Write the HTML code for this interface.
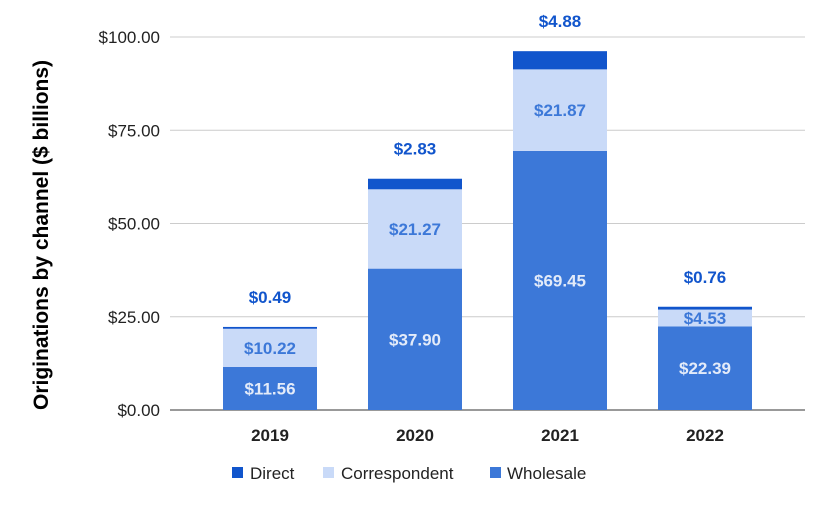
<!DOCTYPE html>
<html><head><meta charset="utf-8"><style>
body{margin:0;background:#fff;}
svg text{font-family:"Liberation Sans",Arial,sans-serif;}
</style></head><body>
<svg id="chart" width="829" height="512" xmlns="http://www.w3.org/2000/svg">
<rect width="829" height="512" fill="#fff"/>
<g id="grid"></g><g id="bars"></g><g id="labels"></g>
<text transform="translate(48,235) rotate(-90)" text-anchor="middle" font-size="21" font-weight="bold" fill="#000">Originations by channel ($ billions)</text>
<g>
<rect x="232" y="467" width="11" height="11" fill="#1155cc"/>
<text x="250" y="479" font-size="17" fill="#222">Direct</text>
<rect x="323" y="467" width="11" height="11" fill="#c9daf8"/>
<text x="341" y="479" font-size="17" fill="#222">Correspondent</text>
<rect x="490" y="467" width="11" height="11" fill="#3c78d8"/>
<text x="507" y="479" font-size="17" fill="#222">Wholesale</text>
</g>
</svg>
<script>
const categories = ["2019","2020","2021","2022"];
const wholesale = [11.56, 37.90, 69.45, 22.39];
const correspondent = [10.22, 21.27, 21.87, 4.53];
const direct = [0.49, 2.83, 4.88, 0.76];
const yTicks = [0, 25, 50, 75, 100];
const yTickLabels = ["$0.00","$25.00","$50.00","$75.00","$100.00"];

const NS = "http://www.w3.org/2000/svg";
const y0 = 410, y100 = 37, xStart = 197.5, step = 145, barW = 94;
const yScale = v => y0 - (v / 100) * (y0 - y100);
const xCenter = i => xStart + step * (i + 0.5);
function mk(tag, attrs, parent, txt) {
  const e = document.createElementNS(NS, tag);
  for (const k in attrs) e.setAttribute(k, attrs[k]);
  if (txt !== undefined) e.textContent = txt;
  parent.appendChild(e);
  return e;
}
const grid = document.getElementById("grid"), bars = document.getElementById("bars"), labels = document.getElementById("labels");
yTicks.forEach((t, i) => {
  const l = mk("line", {x1: 170, x2: 805, y1: yScale(t), y2: yScale(t), stroke: i === 0 ? "#333" : "#ccc", "stroke-width": 1}, grid);
  
  
  const tx = mk("text", {x: 160, y: yScale(t) + 6, "text-anchor": "end", "font-size": 17, fill: "#222"}, grid, yTickLabels[i]);
  
  
});
const fmt = v => "$" + v.toFixed(2);
categories.forEach((c, i) => {
  const cx = xCenter(i), x = cx - barW / 2;
  const w = wholesale[i], co = correspondent[i], d = direct[i];
  const r1 = mk("rect", {x: x, y: yScale(w), width: barW, height: yScale(0) - yScale(w), fill: "#3c78d8"}, bars);
  
  
  const r2 = mk("rect", {x: x, y: yScale(w + co), width: barW, height: yScale(w) - yScale(w + co), fill: "#c9daf8"}, bars);
  
  
  const r3 = mk("rect", {x: x, y: yScale(w + co + d), width: barW, height: yScale(w + co) - yScale(w + co + d), fill: "#1155cc"}, bars);
  
  
  const t1 = mk("text", {x: cx, y: (yScale(0) + yScale(w)) / 2 + 6, "text-anchor": "middle", "font-size": 17, "font-weight": "bold", fill: "#e3ebf9"}, labels, fmt(w));
  
  
  const t2 = mk("text", {x: cx, y: (yScale(w) + yScale(w + co)) / 2 + 6, "text-anchor": "middle", "font-size": 17, "font-weight": "bold", fill: "#3c78d8"}, labels, fmt(co));
  
  
  const t3 = mk("text", {x: cx, y: yScale(w + co + d) - 24, "text-anchor": "middle", "font-size": 17, "font-weight": "bold", fill: "#1155cc"}, labels, fmt(d));
  
  
  const xl = mk("text", {x: cx, y: 441, "text-anchor": "middle", "font-size": 17, "font-weight": "bold", fill: "#222"}, labels, c);
  
  
});
</script>
</body></html>
